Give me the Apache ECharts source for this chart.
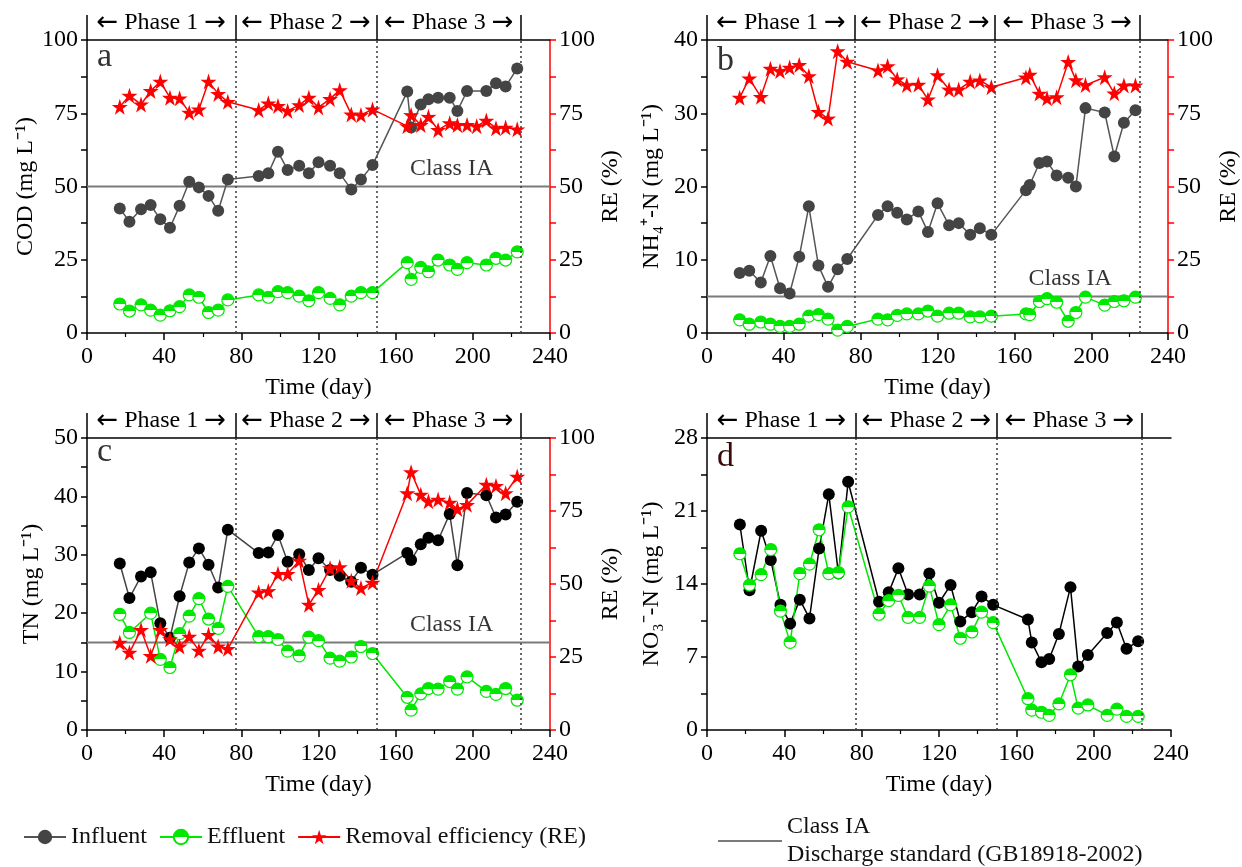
<!DOCTYPE html>
<html>
<head>
<meta charset="utf-8">
<script src="https://cdn.jsdelivr.net/npm/echarts@6/dist/echarts.min.js"></script>
<style>
html, body { margin: 0; padding: 0; background: #fff; }
#chart { width: 1242px; height: 867px; }
</style>
</head>
<body>
<div id="chart"></div>
<script>
// sampling days (same for all panels)
var days = [17, 22, 28, 33, 38, 43, 48, 53, 58, 63, 68, 73,
            89, 94, 99, 104, 110, 115, 120, 126, 131, 137, 142, 148,
            166, 168, 173, 177, 182, 188, 192, 197, 207, 212, 217, 223];
// panel a removal efficiency has one more point (day 202)
var reDaysA = [17, 22, 28, 33, 38, 43, 48, 53, 58, 63, 68, 73,
               89, 94, 99, 104, 110, 115, 120, 126, 131, 137, 142, 148,
               166, 168, 173, 177, 182, 188, 192, 197, 202, 207, 212, 217, 223];

// a: COD
var codIn = [42.5, 38, 42.2, 43.7, 38.8, 35.9, 43.4, 51.6, 49.7, 46.8, 41.7, 52.4,
             53.6, 54.5, 61.9, 55.6, 57.1, 54.5, 58.3, 57.1, 54.5, 49, 52.4, 57.3,
             82.4, 70.1, 78, 79.8, 80.3, 80.3, 75.8, 82.6, 82.6, 85.2, 84.1, 90.3];
var codOut = [9.9, 7.5, 9.6, 7.8, 6.1, 7.6, 9, 13, 12.2, 7, 7.8, 11.3,
              13, 12.2, 14.1, 13.8, 12.6, 11, 13.8, 11.8, 9.6, 12.6, 13.8, 13.8,
              24, 18.3, 22.4, 20.9, 24.9, 23.2, 21.7, 24, 23.2, 25.5, 24.9, 27.7];
var codRe = [77.2, 81, 78, 82.6, 85.8, 80.3, 80.1, 75.2, 76.3, 85.8, 81.6, 78.9,
             76.1, 78.4, 77.5, 75.8, 77.8, 80.3, 77, 79.9, 82.9, 74.6, 74.4, 76.3,
             70.6, 74.4, 71, 73.8, 69.3, 71.6, 71, 71, 70.6, 72.5, 69.9, 70.1, 69.5];

// b: NH4+-N
var nhIn = [8.2, 8.5, 6.9, 10.5, 6.1, 5.4, 10.4, 17.3, 9.2, 6.3, 8.7, 10.1,
            16.1, 17.3, 16.4, 15.5, 16.6, 13.8, 17.7, 14.7, 15, 13.4, 14.3, 13.4,
            19.5, 20.2, 23.2, 23.4, 21.5, 21.2, 20, 30.7, 30.1, 24.1, 28.7, 30.4];
var nhOut = [1.8, 1.2, 1.5, 1.2, 0.9, 0.9, 1.2, 2.3, 2.5, 1.9, 0.4, 0.9,
             1.9, 1.8, 2.4, 2.6, 2.6, 3.0, 2.3, 2.7, 2.7, 2.2, 2.2, 2.3,
             2.6, 2.5, 4.3, 4.7, 4.2, 1.6, 2.8, 4.9, 3.8, 4.3, 4.4, 4.9];
var nhRe = [80.3, 86.9, 80.6, 90.2, 89.4, 90.6, 91.5, 87.7, 75.5, 73.2, 96.2, 92.6,
            89.6, 91.1, 86.6, 84.6, 84.8, 79.7, 88, 83.1, 83.1, 85.8, 86.2, 83.9,
            87.2, 88.2, 81.7, 80.1, 80.5, 92.5, 86.3, 84.6, 87.3, 81.8, 84.5, 84.5];

// c: TN
var tnIn = [28.5, 22.6, 26.3, 27, 18.3, 15.8, 22.9, 28.7, 31.1, 28.3, 24.4, 34.3,
            30.3, 30.4, 33.4, 28.8, 30.1, 27.4, 29.4, 27.4, 26.4, 25.4, 27.8, 26.6,
            30.3, 29.1, 31.8, 32.9, 32.5, 37, 28.2, 40.6, 40.2, 36.4, 36.9, 39.1];
var tnOut = [19.8, 16.7, null, 20, 12.1, 10.7, 16.5, 19.5, 22.5, 19, 17.4, 24.6,
             16, 16, 15.5, 13.5, 12.7, 15.9, 15.3, 12.3, 11.8, 12.5, 14.3, 13.1,
             5.6, 3.4, 6.2, 7.1, 7, 8.3, 7, 9.1, 6.6, 6.1, 7.1, 5.1];
var tnRe = [29.9, 26.5, 34.3, 25.4, 34.3, 31.1, 28.6, 32, 27.2, 32.6, 28.6, 27.8,
            47.1, 47.6, 53.5, 53.5, 58, 42.9, 48, 55.4, 55.8, 51.1, 48.6, 50.5,
            81.1, 88.3, 80.6, 78.3, 78.9, 77.9, 75.7, 77.1, 84, 83.6, 81.1, 86.8];

// d: NO3--N
var noIn = [19.7, 13.4, 19.1, 16.3, 12, 10.2, 12.5, 10.7, 17.4, 22.6, 15, 23.8,
            12.3, 13.2, 15.5, 13, 13, 15, 12.2, 13.9, 10.4, 11.3, 12.8, 12,
            10.6, 8.4, 6.5, 6.8, 9.2, 13.7, 6.1, 7.2, 9.3, 10.3, 7.8, 8.5];
var noOut = [16.9, 13.9, 14.9, 17.3, 11.4, 8.4, 15, 15.9, 19.2, 15, 15.1, 21.4,
             11.1, 12.4, 12.9, 10.8, 10.8, 13.8, 10.1, 12, 8.8, 9.4, 11.3, 10.3,
             3.0, 1.9, 1.7, 1.4, 2.5, 5.3, 2.1, 2.4, 1.4, 2.0, 1.3, 1.3];

var phaseEdges = [0, 77, 150, 225];
var phaseMids = [38.5, 113.5, 187.5];
var phaseNames = ['Phase 1', 'Phase 2', 'Phase 3'];
var xTicks = { min: 0, max: 240, step: 40 };

var SERIF = 'Liberation Serif';
var GREEN = '#00e800';
var RED = '#ff0000';
var STAR = 'path://M50,0 L61.2,34.6 L97.6,34.5 L68.1,55.9 L79.4,90.5 L50,69 L20.6,90.5 L31.9,55.9 L2.4,34.5 L38.8,34.6 Z';

var effFill = new echarts.graphic.LinearGradient(0, 0, 0, 1, [
    {offset: 0, color: GREEN}, {offset: 0.5, color: GREEN},
    {offset: 0.5, color: '#fff'}, {offset: 1, color: '#fff'}
]);

var panels = [
    {letter: 'a', letterTop: 40, letterColor: '#333', grid: {left: 87, top: 40, width: 463, height: 293},
     yName: 'COD (mg L⁻¹)', yMax: 100, yStep: 25, inf: codIn, eff: codOut, re: codRe, reDays: reDaysA,
     limit: 50, limitLabelX: 189, infColor: '#444', infLine: '#555'},
    {letter: 'b', letterTop: 44, letterColor: '#333', grid: {left: 707, top: 40, width: 464, height: 293},
     yName: 'NH₄⁺-N (mg L⁻¹)', yMax: 40, yStep: 10, inf: nhIn, eff: nhOut, re: nhRe, reDays: days,
     limit: 5, limitLabelX: 189, infColor: '#444', infLine: '#555'},
    {letter: 'c', letterTop: 435, letterColor: '#333', grid: {left: 87, top: 438, width: 463, height: 292},
     yName: 'TN (mg L⁻¹)', yMax: 50, yStep: 10, inf: tnIn, eff: tnOut, re: tnRe, reDays: days,
     limit: 15, limitLabelX: 189, infColor: '#000', infLine: '#444'},
    {letter: 'd', letterTop: 440, letterColor: '#3a0a0a', grid: {left: 707, top: 438, width: 464, height: 292},
     yName: 'NO₃⁻-N (mg L⁻¹)', yMax: 28, yStep: 7, inf: noIn, eff: noOut, re: null, reDays: null,
     limit: null, infColor: '#000', infLine: '#000'}
];

function pairs(xs, ys) {
    return xs.map(function (x, k) { return [x, ys[k]]; });
}

var labelFont = {fontFamily: SERIF, fontSize: 24, color: '#000'};

var option = {
    backgroundColor: '#fff',
    animation: false,
    title: [],
    grid: [],
    xAxis: [],
    yAxis: [],
    series: [],
    legend: [
        {
            data: ['Influent', 'Effluent', 'Removal efficiency (RE)'],
            left: 18, top: 820, itemWidth: 42, itemHeight: 18, itemGap: 12,
            textStyle: {fontFamily: SERIF, fontSize: 24, color: '#111'}
        },
        {
            data: ['Class IA'],
            left: 712, top: 808, itemWidth: 64, itemHeight: 14,
            itemStyle: {opacity: 0},
            formatter: function () { return 'Class IA\nDischarge standard (GB18918-2002)'; },
            textStyle: {fontFamily: SERIF, fontSize: 24, color: '#111', lineHeight: 28}
        }
    ]
};

panels.forEach(function (p, i) {
    option.grid.push(p.grid);
    option.title.push({
        text: p.letter, left: p.grid.left + 10, top: p.letterTop, padding: 0,
        textStyle: {fontFamily: SERIF, fontSize: 34, fontWeight: 'normal', color: p.letterColor}
    });

    // bottom time axis
    option.xAxis.push({
        gridIndex: i, type: 'value', min: xTicks.min, max: xTicks.max, interval: xTicks.step,
        position: 'bottom', name: 'Time (day)', nameLocation: 'middle', nameGap: 43,
        nameTextStyle: labelFont,
        axisLine: {onZero: false, lineStyle: {color: '#000', width: 1.5}},
        axisTick: {length: 7, lineStyle: {color: '#000', width: 1.5}},
        minorTick: {show: true, splitNumber: 2, length: 4, lineStyle: {color: '#000', width: 1.2}},
        axisLabel: Object.assign({margin: 12}, labelFont),
        splitLine: {show: false}
    });
    // top axis used as the phase header
    option.xAxis.push({
        gridIndex: i, type: 'value', min: xTicks.min, max: xTicks.max, position: 'top',
        axisLine: {onZero: false, lineStyle: {color: '#000', width: 1.5}},
        axisTick: {show: true, customValues: phaseEdges, length: 25, lineStyle: {color: '#000', width: 1.5}},
        axisLabel: Object.assign({
            customValues: phaseMids, margin: 4,
            formatter: function (v) {
                var k = phaseMids.indexOf(v);
                return '{ar|←} ' + phaseNames[k] + ' {ar|→}';
            },
            rich: {ar: {fontFamily: 'DejaVu Sans', fontSize: 26, color: '#000'}}
        }, labelFont),
        splitLine: {show: false}
    });

    option.yAxis.push({
        gridIndex: i, type: 'value', min: 0, max: p.yMax, interval: p.yStep, position: 'left',
        name: p.yName, nameLocation: 'middle', nameGap: 43, nameRotate: 90,
        nameTextStyle: labelFont,
        axisLine: {show: true, onZero: false, lineStyle: {color: '#000', width: 1.5}},
        axisTick: {show: true, length: 6, lineStyle: {color: '#000', width: 1.5}},
        minorTick: {show: true, splitNumber: 2, length: 6, lineStyle: {color: '#000', width: 1.5}},
        axisLabel: Object.assign({margin: 9}, labelFont),
        splitLine: {show: false}
    });
    option.yAxis.push({
        gridIndex: i, type: 'value', min: 0, max: 100, interval: 25, position: 'right',
        show: p.re !== null,
        name: 'RE (%)', nameLocation: 'middle', nameGap: 39, nameRotate: 90,
        nameTextStyle: labelFont,
        axisLine: {show: true, onZero: false, lineStyle: {color: RED, width: 1.5}},
        axisTick: {show: true, length: 6, lineStyle: {color: RED, width: 1.5}},
        minorTick: {show: true, splitNumber: 2, length: 6, lineStyle: {color: RED, width: 1.5}},
        axisLabel: Object.assign({margin: 9}, labelFont),
        splitLine: {show: false}
    });

    var xi = i * 2, yl = i * 2, yr = i * 2 + 1;

    if (p.limit !== null) {
        option.series.push({
            name: 'Class IA', type: 'line', xAxisIndex: xi, yAxisIndex: yl,
            data: [[xTicks.min, p.limit], [xTicks.max, p.limit]],
            symbol: 'none', lineStyle: {color: '#7a7a7a', width: 2}, itemStyle: {color: '#7a7a7a'},
            silent: true
        });
        option.series.push({
            name: 'Class IA label', type: 'scatter', xAxisIndex: xi, yAxisIndex: yl,
            data: [[p.limitLabelX, p.limit]], symbolSize: 1, itemStyle: {color: 'transparent'},
            label: Object.assign({show: true, position: 'top', distance: 5, formatter: 'Class IA'}, labelFont),
            silent: true
        });
    }

    option.series.push({
        name: 'Influent', type: 'line', xAxisIndex: xi, yAxisIndex: yl,
        data: pairs(days, p.inf), symbol: 'circle', symbolSize: 12,
        lineStyle: {color: p.infLine, width: 1.5}, itemStyle: {color: p.infColor},
        markLine: {
            silent: true, symbol: ['none', 'none'], label: {show: false},
            lineStyle: {color: '#444', type: [2, 3], width: 1.6},
            data: phaseEdges.slice(1).map(function (d) { return {xAxis: d}; })
        }
    });
    option.series.push({
        name: 'Effluent', type: 'line', xAxisIndex: xi, yAxisIndex: yl,
        data: pairs(days, p.eff), connectNulls: true, symbol: 'circle', symbolSize: 12,
        lineStyle: {color: GREEN, width: 1.5},
        itemStyle: {color: effFill, borderColor: GREEN, borderWidth: 1.2}
    });
    if (p.re !== null) {
        option.series.push({
            name: 'Removal efficiency (RE)', type: 'line', xAxisIndex: xi, yAxisIndex: yr,
            data: pairs(p.reDays, p.re), symbol: STAR, symbolSize: 16,
            lineStyle: {color: RED, width: 1.5}, itemStyle: {color: RED}
        });
    }
});

var chart = echarts.init(document.getElementById('chart'));
chart.setOption(option);
</script>
</body>
</html>
